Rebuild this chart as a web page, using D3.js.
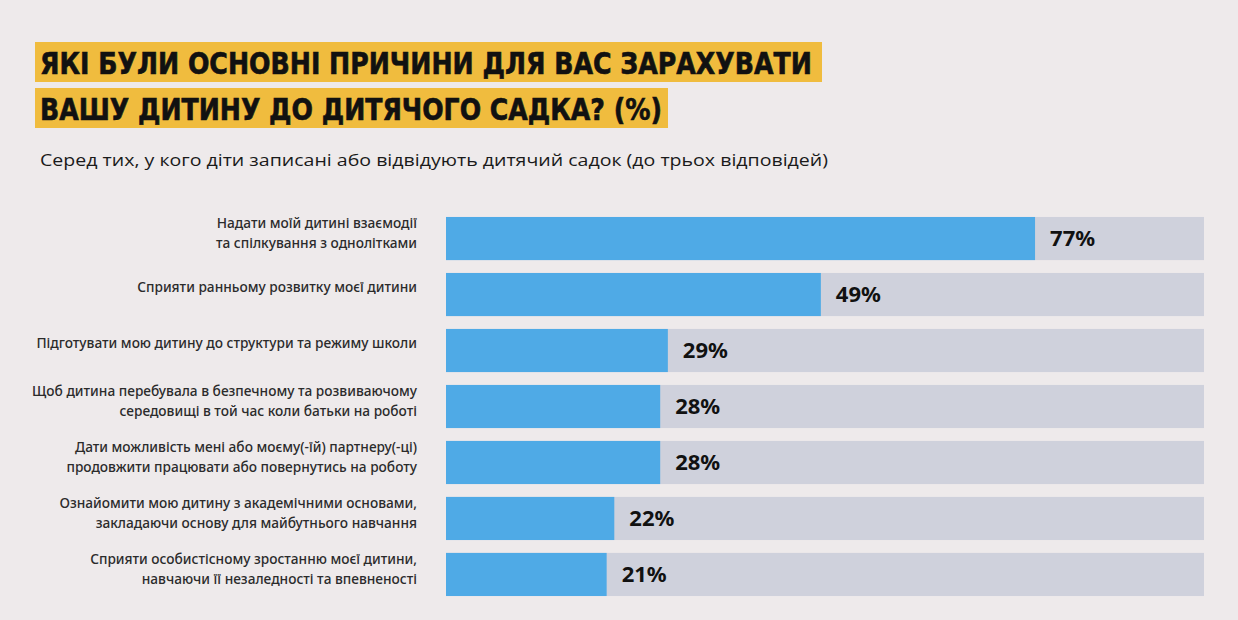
<!DOCTYPE html>
<html>
<head>
<meta charset="utf-8">
<script src="https://cdn.jsdelivr.net/npm/d3@7"></script>
<style>
  body { margin: 0; background: #eeeaeb; }
  svg { display: block; }
</style>
</head>
<body>
<div id="chart"></div>
<script>
// chart data
var titleLines = ["ЯКІ БУЛИ ОСНОВНІ ПРИЧИНИ ДЛЯ ВАС ЗАРАХУВАТИ", "ВАШУ ДИТИНУ ДО ДИТЯЧОГО САДКА? (%)"];
var subtitle = "Серед тих, у кого діти записані або відвідують дитячий садок (до трьох відповідей)";
var reasons = [
    "Надати моїй дитині взаємодії\nта спілкування з однолітками",
    "Сприяти ранньому розвитку моєї дитини",
    "Підготувати мою дитину до структури та режиму школи",
    "Щоб дитина перебувала в безпечному та розвиваючому\nсередовищі в той час коли батьки на роботі",
    "Дати можливість мені або моєму(-їй) партнеру(-ці)\nпродовжити працювати або повернутись на роботу",
    "Ознайомити мою дитину з академічними основами,\nзакладаючи основу для майбутнього навчання",
    "Сприяти особистісному зростанню моєї дитини,\nнавчаючи її незаледності та впевненості"
];
var shares = [77, 49, 29, 28, 28, 22, 21];

var width = 1238, height = 620;
var svg = d3.select("#chart").append("svg")
    .attr("width", width)
    .attr("height", height);

// title with yellow highlight boxes
var titleBoxW = [787, 633];
titleLines.forEach(function (t, i) {
    var top = 42 + i * 46;
    svg.append("rect")
        .attr("x", 35).attr("y", top)
        .attr("width", titleBoxW[i]).attr("height", 40)
        .attr("fill", "#f0bc3e");
    svg.append("text")
        .attr("x", 40).attr("y", top + 32)
        .attr("font-family", "'DejaVu Sans Condensed', 'Liberation Sans Narrow', sans-serif")
        .attr("font-weight", 700)
        .attr("font-size", 30)
        .attr("textLength", i == 0 ? 772 : 622)
        .attr("lengthAdjust", "spacingAndGlyphs")
        .attr("fill", "#111")
        .attr("stroke", "#111")
        .attr("stroke-width", 0.6)
        .text(t);
});

svg.append("text")
    .attr("x", 40).attr("y", 166)
    .attr("font-family", "'Open Sans', sans-serif")
    .attr("font-size", 17)
    .attr("textLength", 788)
    .attr("lengthAdjust", "spacingAndGlyphs")
    .attr("fill", "#1a1a1a")
    .text(subtitle);

// bars
var x = d3.scaleLinear().domain([0, 100]).range([446, 1211]);
var y = d3.scaleBand()
    .domain(d3.range(reasons.length))
    .range([212.5, 600.5])
    .paddingInner(0.23)
    .paddingOuter(0.08);

var row = svg.selectAll(".row")
    .data(shares)
    .enter()
    .append("g")
    .attr("class", "row")
    .attr("transform", function (d, i) { return "translate(0," + y(i) + ")"; });

row.append("rect") // track
    .attr("x", x(0))
    .attr("width", 758)
    .attr("height", y.bandwidth())
    .attr("fill", "#cfd1dc");

row.append("rect") // value
    .attr("x", x(0))
    .attr("width", function (d) { return x(d) - x(0); })
    .attr("height", y.bandwidth())
    .attr("fill", "#4faae6");

row.append("text")
    .attr("x", function (d) { return x(d) + 15; })
    .attr("y", y.bandwidth() / 2)
    .attr("dy", "0.36em")
    .attr("font-family", "'Noto Sans', sans-serif")
    .attr("font-weight", 700)
    .attr("font-size", 22)
    .attr("fill", "#111")
    .text(function (d) { return d + "%"; });

// category labels
row.each(function (d, i) {
    var lines = reasons[i].split("\n");
    var mid = y.bandwidth() / 2;
    var start = lines.length > 1 ? mid - 15 : mid - 7;
    var t = d3.select(this).append("text")
        .attr("text-anchor", "end")
        .attr("font-family", "'Noto Sans', sans-serif")
        .attr("font-weight", 500)
        .attr("font-size", 13.7)
        .attr("fill", "#2b2b2b");
    lines.forEach(function (l, j) {
        t.append("tspan")
            .attr("x", 417)
            .attr("y", start + j * 20)
            .attr("dy", "0.35em")
            .text(l);
    });
});
</script>
</body>
</html>
